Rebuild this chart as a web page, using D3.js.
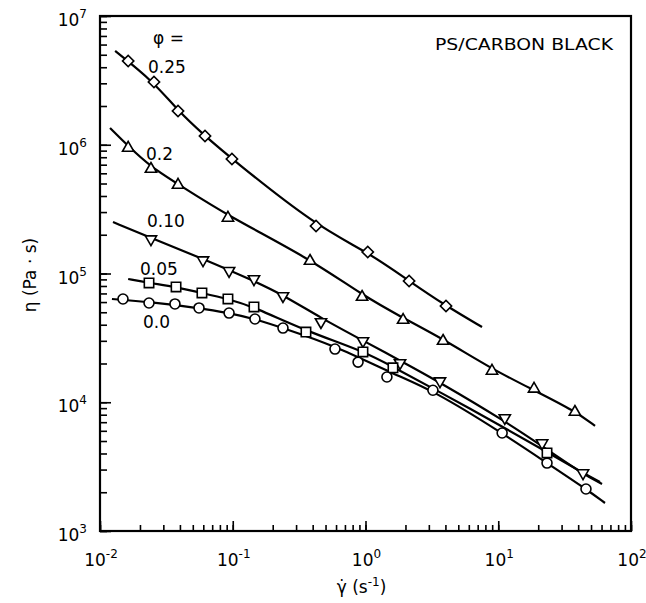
<!DOCTYPE html>
<html>
<head>
<meta charset="utf-8">
<script src="https://cdn.jsdelivr.net/npm/d3@7/dist/d3.min.js"></script>
<style>
  body { margin: 0; background: #fff; }
  text { font-family: "DejaVu Sans", sans-serif; fill: #000; }
</style>
</head>
<body>
<svg id="chart" width="646" height="603"></svg>
<script>
// measured points [shear rate (1/s), viscosity (Pa s)] and the drawn fit curves
const pts025 = [[0.0163, 4.47e6], [0.0255, 3.07e6], [0.0387, 1.83e6], [0.0618, 1.17e6], [0.0986, 7.75e5], [0.424, 2.34e5], [1.04, 1.47e5], [2.13, 8.75e4], [4.04, 5.6e4]]
const fit025 = [[0.013, 5.35e6], [0.0255, 3.07e6], [0.0387, 1.83e6], [0.0618, 1.17e6], [0.0986, 7.75e5], [0.424, 2.34e5], [1.04, 1.47e5], [2.13, 8.75e4], [4.04, 5.6e4], [7.55, 3.84e4]]

const pts020 = [[0.0163, 9.44e5], [0.0242, 6.48e5], [0.0387, 4.87e5], [0.092, 2.7e5], [0.382, 1.25e5], [0.942, 6.57e4], [1.92, 4.35e4], [3.84, 2.99e4], [8.97, 1.75e4], [18.6, 1.27e4], [37.8, 8.4e3]]
const fit020 = [[0.0119, 1.35e6], [0.0163, 9.77e5], [0.0242, 6.72e5], [0.0387, 4.95e5], [0.092, 2.8e5], [0.382, 1.3e5], [0.942, 6.81e4], [1.92, 4.51e4], [3.84, 3.1e4], [8.97, 1.81e4], [18.6, 1.24e4], [37.8, 8.55e3], [53.6, 6.55e3]]

const pts010 = [[0.0242, 1.85e5], [0.0597, 1.27e5], [0.0938, 1.05e5], [0.1445, 9.06e4], [0.239, 6.69e4], [0.462, 4.2e4], [0.957, 2.99e4], [1.82, 2.02e4], [3.64, 1.46e4], [11.2, 7.55e3], [21.4, 4.82e3], [43.5, 2.82e3]]
const fit010 = [[0.01253, 2.51e5], [0.0242, 1.89e5], [0.0597, 1.3e5], [0.1445, 8.75e4], [0.239, 6.81e4], [0.462, 4.51e4], [0.942, 3.04e4], [1.85, 2.09e4], [3.71, 1.41e4], [11.2, 7.14e3], [21.4, 4.57e3], [43.5, 2.77e3], [60.5, 2.32e3]]

const pts005 = [[0.0234, 8.44e4], [0.0374, 7.86e4], [0.0586, 7.06e4], [0.092, 6.34e4], [0.1445, 5.5e4], [0.356, 3.51e4], [0.957, 2.46e4], [1.61, 1.85e4], [23.3, 4.04e3]]
const fit005 = [[0.0163, 9.06e4], [0.0234, 8.44e4], [0.0374, 7.86e4], [0.0586, 7.06e4], [0.092, 6.34e4], [0.1445, 5.5e4], [0.356, 3.57e4], [0.957, 2.5e4], [1.61, 1.88e4], [3.64, 1.2e4], [11.2, 6.31e3], [23.3, 4.11e3], [43.5, 2.82e3], [58.4, 2.4e3]]

const pts000 = [[0.0149, 6.34e4], [0.0234, 5.9e4], [0.0367, 5.8e4], [0.0557, 5.4e4], [0.0938, 4.93e4], [0.147, 4.43e4], [0.239, 3.77e4], [0.589, 2.59e4], [0.879, 2.05e4], [1.45, 1.57e4], [3.22, 1.24e4], [10.7, 5.77e3], [23.3, 3.37e3], [45.8, 2.12e3]]
const fit000 = [[0.0123, 6.34e4], [0.0234, 6.01e4], [0.0557, 5.4e4], [0.0938, 4.93e4], [0.147, 4.43e4], [0.239, 3.77e4], [0.589, 2.74e4], [1.61, 1.66e4], [3.22, 1.24e4], [10.7, 5.77e3], [23.3, 3.37e3], [45.8, 2.12e3], [63.7, 1.65e3]]

const phiLabels = ['0.25', '0.2', '0.10', '0.05', '0.0']
const xTickExp = [-2, -1, 0, 1, 2]
const yTickExp = [3, 4, 5, 6, 7]

const margin = { top: 16, right: 15, bottom: 72, left: 100 }
const width = 646 - margin.left - margin.right
const height = 603 - margin.top - margin.bottom

const x = d3.scaleLog().domain([1e-2, 1e2]).range([0, width])
const y = d3.scaleLog().domain([1e3, 1e7]).range([height, 0])

const svg = d3.select('#chart')
const g = svg.append('g').attr('transform', `translate(${margin.left},${margin.top})`)

// ticks, inside the frame, left and bottom only
const tickAxis = (axis, size, values) => axis.tickValues(values).tickSize(size).tickFormat('')
const yMajor = yTickExp.map(e => 10 ** e)
const xMajor = xTickExp.map(e => 10 ** e)

g.append('g').call(tickAxis(d3.axisLeft(y), -7, y.ticks()))
g.append('g').call(tickAxis(d3.axisLeft(y), -11, yMajor))
g.append('g').attr('transform', `translate(0,${height})`).call(tickAxis(d3.axisBottom(x), -6, x.ticks()))
g.append('g').attr('transform', `translate(0,${height})`).call(tickAxis(d3.axisBottom(x), -10, xMajor))
g.selectAll('.domain').remove()
g.selectAll('.tick line').attr('stroke', '#000').attr('stroke-width', 1.6)

g.append('rect')
  .attr('width', width)
  .attr('height', height)
  .attr('fill', 'none')
  .attr('stroke', '#000')
  .attr('stroke-width', 2.2)

// power-of-ten labels
const powLabel = (sel, exp) => {
  sel.append('tspan').text('10')
  sel.append('tspan').attr('dy', -8).attr('font-size', 12).text(exp)
}

yTickExp.forEach(e => {
  g.append('text')
    .attr('x', -13)
    .attr('y', y(10 ** e) + 10)
    .attr('text-anchor', 'end')
    .attr('font-size', 17)
    .call(powLabel, e)
})

xTickExp.forEach(e => {
  g.append('text')
    .attr('x', x(10 ** e) + 1)
    .attr('y', height + 35)
    .attr('text-anchor', 'middle')
    .attr('font-size', 17)
    .call(powLabel, e < 0 ? '-' + Math.abs(e) : e)
})

// axis titles
const xt = g.append('text')
  .attr('x', width / 2 - 4)
  .attr('y', height + 62)
  .attr('text-anchor', 'middle')
  .attr('font-size', 17)
xt.append('tspan').text('γ\u0307  (s')
xt.append('tspan').attr('dy', -7).attr('font-size', 12).text('-1')
xt.append('tspan').attr('dy', 7).text(')')

svg.append('text')
  .attr('transform', 'translate(36,275) rotate(-90)')
  .attr('text-anchor', 'middle')
  .attr('font-size', 17)
  .text('η  (Pa · s)')

g.append('text')
  .attr('x', width - 18)
  .attr('y', 34)
  .attr('text-anchor', 'end')
  .attr('font-size', 16)
  .attr('textLength', 178)
  .attr('lengthAdjust', 'spacingAndGlyphs')
  .text('PS/CARBON BLACK')

// series
const series = [
  { label: phiLabels[0], pts: pts025, fit: fit025, symbol: d3.symbolSquare, size: 64, rotate: 45, at: [0.023, 3.6e6] },
  { label: phiLabels[1], pts: pts020, fit: fit020, symbol: d3.symbolTriangle, size: 55, rotate: 0, at: [0.0222, 7.62e5] },
  { label: phiLabels[2], pts: pts010, fit: fit010, symbol: d3.symbolTriangle, size: 55, rotate: 180, at: [0.0226, 2.3e5] },
  { label: phiLabels[3], pts: pts005, fit: fit005, symbol: d3.symbolSquare, size: 88, rotate: 0, at: [0.02, 9.73e4] },
  { label: phiLabels[4], pts: pts000, fit: fit000, symbol: d3.symbolCircle, size: 78, rotate: 0, at: [0.0211, 3.78e4] }
]

// smooth fitted curves, like the hand-drawn ones
const line = d3.line()
  .x(d => x(d[0]))
  .y(d => y(d[1]))
  .curve(d3.curveBasis)

series.forEach(s => {
  g.append('path')
    .datum(s.fit)
    .attr('d', line)
    .attr('fill', 'none')
    .attr('stroke', '#000')
    .attr('stroke-width', 2.2)
})

series.forEach(s => {
  g.append('g')
    .selectAll('path')
    .data(s.pts)
    .enter()
    .append('path')
    .attr('d', d3.symbol().type(s.symbol).size(s.size))
    .attr('transform', d => `translate(${x(d[0])},${y(d[1])}) rotate(${s.rotate})`)
    .attr('fill', '#fff')
    .attr('stroke', '#000')
    .attr('stroke-width', 1.6)

  g.append('text')
    .attr('x', x(s.at[0]))
    .attr('y', y(s.at[1]))
    .attr('font-size', 17)
    .text(s.label)
})

g.append('text')
  .attr('x', x(0.0251))
  .attr('y', y(6.07e6))
  .attr('font-size', 17)
  .text('φ =')
</script>
</body>
</html>
